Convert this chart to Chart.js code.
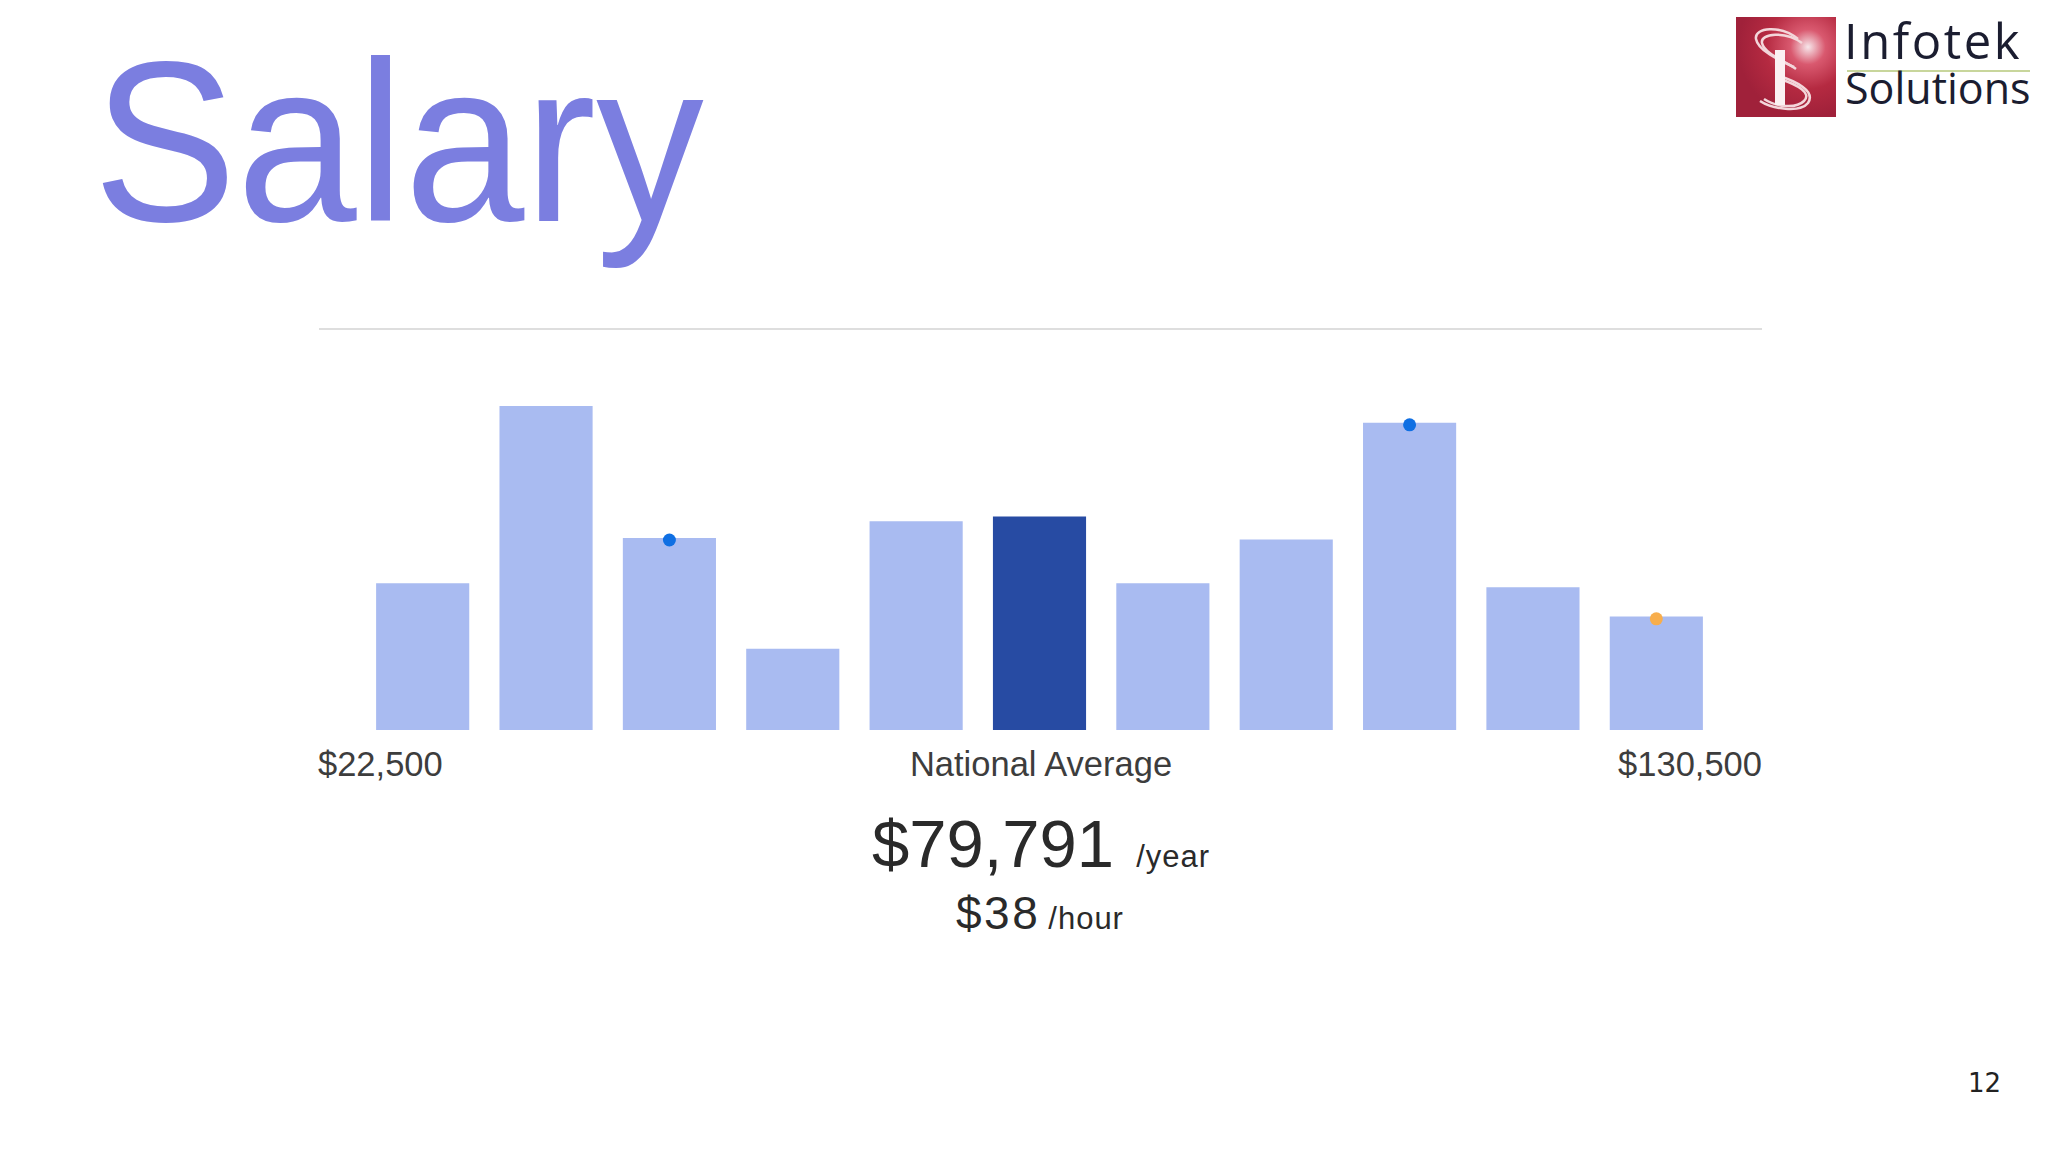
<!DOCTYPE html>
<html>
<head>
<meta charset="utf-8">
<script src="https://cdn.jsdelivr.net/npm/chart.js@4/dist/chart.umd.min.js"></script>
<style>
  html, body { margin: 0; padding: 0; background: #ffffff; }
  body { width: 2048px; height: 1152px; position: relative; overflow: hidden; font-family: "Liberation Sans", Arial, sans-serif; }
  .abs { position: absolute; white-space: nowrap; line-height: 1; }
  #title { left: 93px; top: 28px; font-size: 228px; color: #7b7ee0; transform: scaleX(0.945); transform-origin: left top; }
  #rule { left: 319px; top: 328px; width: 1443px; height: 2px; background: #dedede; }
  #chartBox { position: absolute; left: 319px; top: 330px; width: 1443px; height: 400px; }
  .lbl { top: 747px; font-size: 34.5px; color: #3d3d3d; }
  #lblLeft { left: 318px; }
  #lblMid { left: 1041px; transform: translateX(-50%); }
  #lblRight { right: 286px; }
  #line1 { top: 810px; left: 1041px; transform: translateX(-50%); color: #2a2a2a; }
  #line1 .big { font-size: 67px; }
  #line1 .small { font-size: 31px; letter-spacing: 1px; margin-left: 22px; }
  #line2 { top: 890px; left: 1040px; transform: translateX(-50%); color: #2a2a2a; }
  #line2 .big { font-size: 46px; letter-spacing: 2.5px; }
  #line2 .small { font-size: 31px; letter-spacing: 1px; margin-left: 8px; }
  #page { left: 1968px; top: 1070px; font-family: "DejaVu Sans", sans-serif; font-size: 26px; color: #222; }
  #logoText1 { left: 1844px; top: 16px; font-family: "Open Sans", "Noto Sans", sans-serif; font-size: 49px; letter-spacing: 2.5px; color: #1b1d30; }
  #logoRule { left: 1847px; top: 70px; width: 183px; height: 2px; background: #c8d69c; }
  #logoText2 { left: 1845px; top: 66px; font-family: "Open Sans", "Noto Sans", sans-serif; font-size: 43px; color: #1b1d30; }
  #logoMark { position: absolute; left: 1736px; top: 17px; width: 100px; height: 100px; }
</style>
</head>
<body>
<div id="title" class="abs">Salary</div>

<svg id="logoMark" viewBox="0 0 100 100" xmlns="http://www.w3.org/2000/svg">
  <defs>
    <radialGradient id="glow" cx="0.72" cy="0.3" r="0.7">
      <stop offset="0" stop-color="#f7e6ea"/>
      <stop offset="0.25" stop-color="#d9596f"/>
      <stop offset="0.6" stop-color="#b52a41"/>
      <stop offset="1" stop-color="#a0213a"/>
    </radialGradient>
  </defs>
  <rect x="0" y="0" width="100" height="100" fill="url(#glow)"/>
  <g fill="none" stroke="#f3d6da" stroke-width="2.5">
    <path d="M62 22 C 45 8, 18 10, 20 22 C 22 34, 45 44, 58 50"/>
    <path d="M66 26 C 50 14, 24 16, 26 26 C 28 36, 48 44, 60 52"/>
    <path d="M40 58 C 60 64, 80 74, 72 86 C 64 96, 36 92, 24 84"/>
    <path d="M44 62 C 62 68, 76 76, 68 84 C 60 92, 40 90, 28 82"/>
  </g>
  <rect x="39" y="33" width="10" height="55" fill="#fbf1f2"/>
</svg>
<div id="logoText1" class="abs">Infotek</div>
<div id="logoRule" class="abs"></div>
<div id="logoText2" class="abs">Solutions</div>

<div id="rule" class="abs"></div>
<div id="chartBox"><canvas id="c" width="1443" height="400"></canvas></div>

<div id="lblLeft" class="abs lbl">$22,500</div>
<div id="lblMid" class="abs lbl">National Average</div>
<div id="lblRight" class="abs lbl">$130,500</div>

<div id="line1" class="abs"><span class="big">$79,791</span><span class="small">/year</span></div>
<div id="line2" class="abs"><span class="big">$38</span><span class="small">/hour</span></div>

<div id="page" class="abs">12</div>

<script>
// ---- data ----
const categories = ["$22,500", "", "", "", "", "National Average", "", "", "", "", "$130,500"];
const barValues = [36.7, 81.0, 48.0, 20.3, 52.2, 53.4, 36.7, 47.6, 76.8, 35.7, 28.4];
const highlightIndex = 5;
const blueMarkers = [null, null, 47.5, null, null, null, null, null, 76.3, null, null];
const orangeMarkers = [null, null, null, null, null, null, null, null, null, null, 27.8];
const yMax = 100;

const lightBar = "#a9bbf1";
const darkBar = "#274ba3";
const barColors = barValues.map((v, i) => i === highlightIndex ? darkBar : lightBar);

new Chart(document.getElementById("c"), {
  data: {
    labels: categories,
    datasets: [
      {
        type: "bar",
        data: barValues,
        backgroundColor: barColors,
        borderWidth: 0,
        barPercentage: 0.755,
        categoryPercentage: 1.0,
        order: 2
      },
      {
        type: "line",
        data: blueMarkers,
        showLine: false,
        pointRadius: 6.5,
        pointHoverRadius: 6.5,
        pointBackgroundColor: "#0f6fe3",
        pointBorderWidth: 0,
        clip: false,
        order: 1
      },
      {
        type: "line",
        data: orangeMarkers,
        showLine: false,
        pointRadius: 6.5,
        pointHoverRadius: 6.5,
        pointBackgroundColor: "#f8ae4c",
        pointBorderWidth: 0,
        clip: false,
        order: 0
      }
    ]
  },
  options: {
    responsive: false,
    animation: false,
    devicePixelRatio: 1,
    layout: { autoPadding: false, padding: { left: 42, right: 44, top: 0, bottom: 0 } },
    plugins: { legend: { display: false }, tooltip: { enabled: false } },
    scales: {
      x: { display: false, offset: true, grid: { display: false } },
      y: { display: false, min: 0, max: yMax, grid: { display: false } }
    }
  }
});
</script>
</body>
</html>
